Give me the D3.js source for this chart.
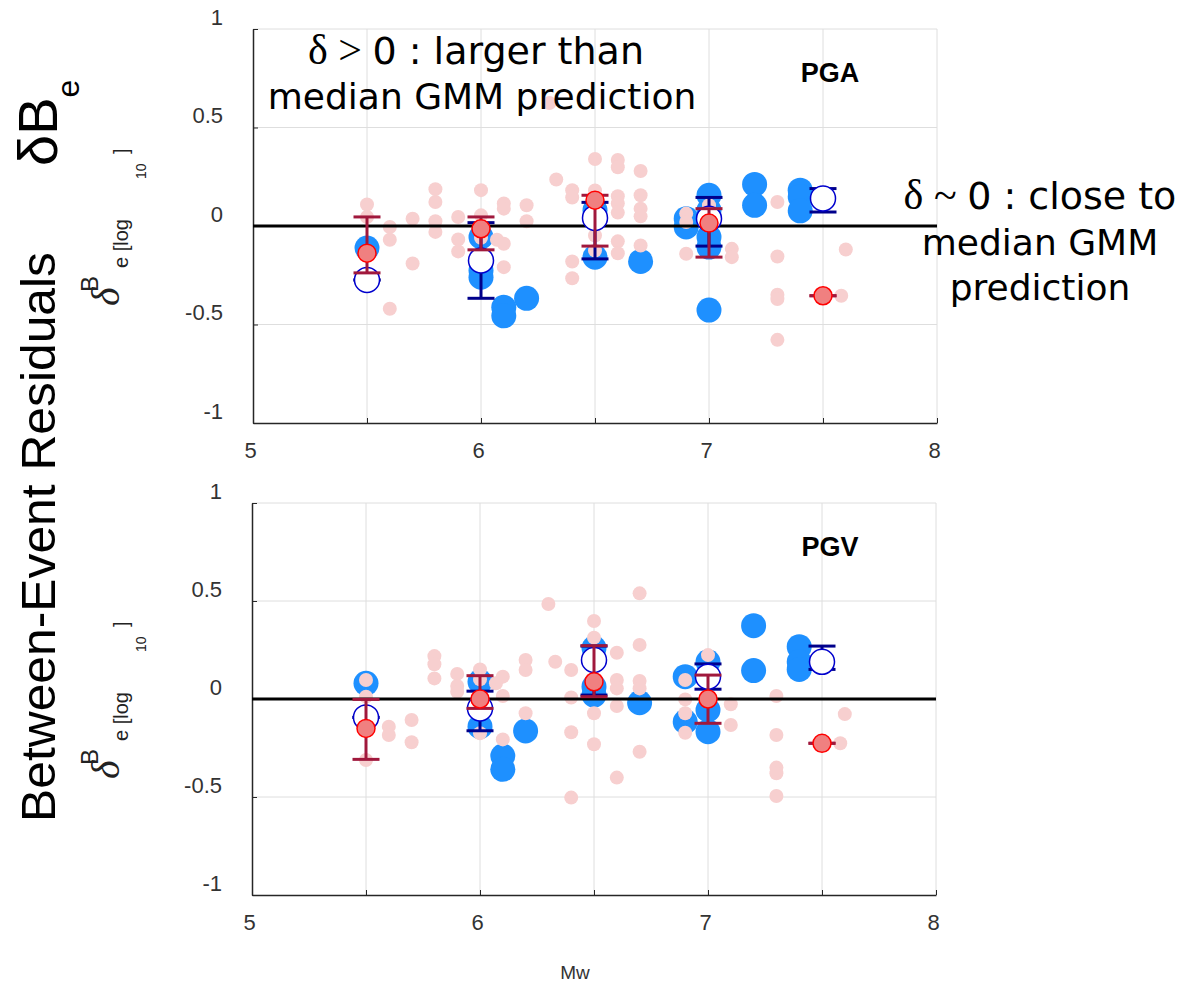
<!DOCTYPE html>
<html>
<head>
<meta charset="utf-8">
<script src="https://cdn.jsdelivr.net/npm/d3@7"></script>
<style>
  body { margin: 0; background: #fff; }
</style>
</head>
<body>
<div id="plot"></div>
<script>
// ---- data: [Mw, residual] ----
const pgaAll = [
  [5.5,0.109],[5.5,0.046],[5.6,-0.005],[5.6,-0.07],[5.6,-0.42],[5.7,0.037],[5.7,-0.19],
  [5.8,0.187],[5.8,0.122],[5.8,0.024],[5.8,-0.03],[5.9,0.046],[5.9,-0.068],[5.9,-0.129],
  [6.0,0.182],[6.0,0.054],[6.0,-0.06],[6.07,-0.07],[6.1,0.114],[6.1,0.088],[6.1,-0.09],[6.1,-0.209],
  [6.2,0.105],[6.2,0.024],[6.3,0.624],[6.33,0.236],[6.4,0.182],[6.4,0.145],[6.4,-0.18],[6.4,-0.265],
  [6.5,0.34],[6.5,0.18],[6.5,-0.048],[6.5,-0.124],[6.6,0.335],[6.6,0.298],[6.6,0.151],[6.6,0.114],
  [6.6,0.068],[6.6,-0.078],[6.6,-0.138],[6.7,0.279],[6.7,0.156],[6.7,0.088],[6.7,0.049],[6.7,-0.099],
  [6.9,0.063],[6.9,0.02],[6.9,-0.141],[7.0,0.105],[7.1,-0.116],[7.1,-0.158],
  [7.3,0.122],[7.3,-0.155],[7.3,-0.349],[7.3,-0.371],[7.3,-0.578],[7.58,-0.354],[7.6,-0.119]
];
const pgaSubset = [
  [5.5,-0.112],[6.0,-0.056],[6.0,-0.226],[6.0,-0.26],[6.1,-0.413],[6.1,-0.456],[6.2,-0.367],
  [6.5,0.08],[6.5,-0.158],[6.7,-0.18],[6.9,0.037],[6.9,-0.005],
  [7.0,0.156],[7.0,0.08],[7.0,-0.056],[7.0,-0.107],[7.0,-0.427],
  [7.2,0.211],[7.2,0.105],[7.4,0.182],[7.4,0.148],[7.4,0.077]
];
const pgvAll = [
  [5.5,0.097],[5.5,0.012],[5.5,-0.311],[5.6,-0.141],[5.6,-0.184],[5.7,-0.107],[5.7,-0.221],
  [5.8,0.219],[5.8,0.177],[5.8,0.105],[5.9,0.128],[5.9,0.066],[5.9,0.037],
  [6.0,0.151],[6.0,0.1],[6.0,-0.175],[6.07,0.08],[6.1,0.114],[6.1,0.015],[6.1,-0.206],
  [6.2,0.199],[6.2,0.148],[6.2,-0.073],[6.3,0.485],[6.33,0.19],
  [6.4,0.148],[6.4,0.008],[6.4,-0.17],[6.4,-0.503],[6.5,0.398],[6.5,0.313],[6.5,-0.073],[6.5,-0.231],
  [6.6,0.236],[6.6,0.097],[6.6,0.054],[6.6,-0.036],[6.6,-0.401],
  [6.7,0.539],[6.7,0.276],[6.7,0.092],[6.7,0.054],[6.7,-0.269],
  [6.9,0.097],[6.9,-0.002],[6.9,-0.073],[6.9,-0.172],[7.0,0.224],[7.1,-0.027],[7.1,-0.133],
  [7.3,0.015],[7.3,-0.184],[7.3,-0.35],[7.3,-0.379],[7.3,-0.495],[7.58,-0.226],[7.6,-0.077]
];
const pgvSubset = [
  [5.5,0.08],[6.0,0.088],[6.0,-0.141],[6.1,-0.291],[6.1,-0.359],[6.2,-0.163],
  [6.5,0.26],[6.5,0.063],[6.5,0.02],[6.7,-0.019],[6.9,0.114],[6.9,-0.116],
  [7.0,0.19],[7.0,-0.056],[7.0,-0.167],[7.2,0.374],[7.2,0.145],[7.4,0.267],[7.4,0.19],[7.4,0.151]
];

// binned summaries
const binMw = [5.5, 6.0, 6.5, 7.0, 7.5];
const pgaSubMid = [-0.274, -0.175, 0.041, 0.037, 0.14];
const pgaSubLo  = [-0.274, -0.367, -0.167, -0.102, 0.071];
const pgaSubHi  = [-0.274, 0.017, 0.12, 0.145, 0.19];
const pgaAllMid = [-0.138, -0.014, 0.131, 0.015, -0.354];
const pgaAllLo  = [-0.238, -0.121, -0.102, -0.158, -0.354];
const pgaAllHi  = [0.046, 0.046, 0.156, 0.088, -0.354];

const pgvSubMid = [-0.094, -0.048, 0.199, 0.114, 0.19];
const pgvSubLo  = [-0.094, -0.162, 0.02, 0.05, 0.151];
const pgvSubHi  = [-0.094, 0.04, 0.27, 0.179, 0.27];
const pgvAllMid = [-0.15, 0.0, 0.088, 0.0, -0.226];
const pgvAllLo  = [-0.308, -0.048, 0.012, -0.124, -0.226];
const pgvAllHi  = [-0.002, 0.119, 0.272, 0.122, -0.226];

const yTicks = [-1, -0.5, 0, 0.5, 1];
const xTicks = [5, 5.5, 6, 6.5, 7, 7.5, 8];

const svg = d3.select("#plot").append("svg")
    .attr("width", 1182)
    .attr("height", 989)
    .style("font-family", "'Liberation Sans', Arial, sans-serif");

svg.append("rect").attr("width", 1182).attr("height", 989).attr("fill", "#fff");

function summary(mids, los, his) {
    return binMw.map((m, i) => ({mw: m, mid: mids[i], lo: los[i], hi: his[i]}));
}

function drawPanel(p) {
    const x = d3.scaleLinear().domain([5, 8]).range([p.left, p.right]);
    const y = d3.scaleLinear().domain([-1, 1]).range([p.bottom, p.top]);
    const g = svg.append("g");

    // grid
    g.selectAll("line.gx").data(xTicks.slice(1)).join("line")
        .attr("x1", d => x(d)).attr("x2", d => x(d))
        .attr("y1", y(-1)).attr("y2", y(1))
        .attr("stroke", "#dedede").attr("stroke-width", 1);
    g.selectAll("line.gy").data(yTicks.slice(1)).join("line")
        .attr("x1", x(5)).attr("x2", x(8))
        .attr("y1", d => y(d)).attr("y2", d => y(d))
        .attr("stroke", "#dedede").attr("stroke-width", 1);

    // axes
    const ax = g.append("g")
        .attr("transform", `translate(0,${p.bottom})`)
        .call(d3.axisBottom(x).tickValues(xTicks).tickSizeInner(-5).tickSizeOuter(0)
            .tickPadding(19).tickFormat(d => Number.isInteger(d) ? d : ""));
    const ay = g.append("g")
        .attr("transform", `translate(${p.left},0)`)
        .call(d3.axisLeft(y).tickValues(yTicks).tickSizeInner(-5).tickSizeOuter(0)
            .tickPadding(30).tickFormat(d => String(d)));
    [ax, ay].forEach(a => {
        a.select(".domain").attr("stroke", "#262626").attr("stroke-width", 1.5);
        a.selectAll(".tick line").attr("stroke", "#262626");
        a.selectAll("text").attr("fill", "#333").style("font-size", "22px")
            .style("font-family", "'Liberation Sans', Arial, sans-serif");
    });
    ax.selectAll("text").attr("dx", -3);
    ay.selectAll("text").attr("dy", -5);

    // individual events
    g.selectAll("circle.sub").data(p.sub).join("circle")
        .attr("cx", d => x(d[0])).attr("cy", d => y(d[1])).attr("r", 12.5)
        .attr("fill", "#1e90ff");
    g.selectAll("circle.all").data(p.all).join("circle")
        .attr("cx", d => x(d[0])).attr("cy", d => y(d[1])).attr("r", 7)
        .attr("fill", "#f7cfcf");

    // zero line
    g.append("line")
        .attr("x1", x(5)).attr("x2", x(8)).attr("y1", y(0)).attr("y2", y(0))
        .attr("stroke", "#000").attr("stroke-width", 3);

    // error bars + bin markers
    function bars(data, color) {
        const e = g.append("g").attr("stroke", color).attr("stroke-width", 3);
        e.selectAll("line.v").data(data).join("line")
            .attr("x1", d => x(d.mw)).attr("x2", d => x(d.mw))
            .attr("y1", d => y(d.lo)).attr("y2", d => y(d.hi));
        e.selectAll("line.lo").data(data).join("line")
            .attr("x1", d => x(d.mw) - 13.5).attr("x2", d => x(d.mw) + 13.5)
            .attr("y1", d => y(d.lo)).attr("y2", d => y(d.lo));
        e.selectAll("line.hi").data(data).join("line")
            .attr("x1", d => x(d.mw) - 13.5).attr("x2", d => x(d.mw) + 13.5)
            .attr("y1", d => y(d.hi)).attr("y2", d => y(d.hi));
    }
    bars(p.subStats, "#00008b");
    g.selectAll("circle.subm").data(p.subStats).join("circle")
        .attr("cx", d => x(d.mw)).attr("cy", d => y(d.mid)).attr("r", 12.5)
        .attr("fill", "#fff").attr("stroke", "#0000cd").attr("stroke-width", 1.5);
    bars(p.allStats, "#a0183c");
    g.selectAll("circle.allm").data(p.allStats).join("circle")
        .attr("cx", d => x(d.mw)).attr("cy", d => y(d.mid)).attr("r", 9)
        .attr("fill", "#f08080").attr("stroke", "#ff0000").attr("stroke-width", 1.5);

    // panel title
    g.append("text").attr("x", 830).attr("y", p.top + 53)
        .attr("text-anchor", "middle").style("font-size", "27px").style("font-weight", "bold")
        .text(p.title);

    // y label delta^B_e[log10]
    const y0 = y(0);
    const rot = (bx, sy, size, txt, extra) => {
        const t = svg.append("text")
            .attr("transform", `translate(${bx},${sy}) rotate(-90)`)
            .style("font-size", size + "px").attr("fill", "#222").text(txt);
        if (extra) extra(t);
    };
    rot(119, y0 + 80, 40, "δ", t => t.style("font-family", "'Liberation Serif', serif").style("font-style", "italic"));
    rot(98, y0 + 66, 24, "B");
    rot(128, y0 + 42, 20, "e [log");
    rot(146, y0 - 47, 14, "10");
    rot(128, y0 - 72, 20, "]");
}

drawPanel({
    left: 253, right: 937, top: 29, bottom: 423, title: "PGA",
    all: pgaAll, sub: pgaSubset,
    subStats: summary(pgaSubMid, pgaSubLo, pgaSubHi),
    allStats: summary(pgaAllMid, pgaAllLo, pgaAllHi)
});
drawPanel({
    left: 252, right: 936, top: 503, bottom: 895, title: "PGV",
    all: pgvAll, sub: pgvSubset,
    subStats: summary(pgvSubMid, pgvSubLo, pgvSubHi),
    allStats: summary(pgvAllMid, pgvAllLo, pgvAllHi)
});

// x label
svg.append("text").attr("x", 575).attr("y", 979).attr("text-anchor", "middle")
    .style("font-size", "19px").attr("fill", "#333").text("Mw");

// main y label
svg.append("text")
    .attr("transform", "translate(55,822) rotate(-90)")
    .attr("textLength", 570).attr("lengthAdjust", "spacingAndGlyphs")
    .style("font-size", "48px").text("Between-Event Residuals");
const big = svg.append("text")
    .attr("transform", "translate(57,166) rotate(-90)")
    .style("font-size", "56px");
big.append("tspan").text("δB");
big.append("tspan").attr("dy", 22).style("font-size", "32px").text("e");

// annotations
const ann = "'DejaVu Sans', Verdana, sans-serif";
const serif = "'Liberation Serif', 'Times New Roman', serif";
const a1 = svg.append("text").attr("x", 476).attr("y", 64).attr("text-anchor", "middle")
    .style("font-size", "38px").style("font-family", ann);
a1.append("tspan").style("font-family", serif).style("font-size", "42px").text("δ > ");
a1.append("tspan").text("0 : larger than");
svg.append("text").attr("x", 482).attr("y", 109).attr("text-anchor", "middle")
    .style("font-size", "36px").style("font-family", ann).text("median GMM prediction");

const a2 = svg.append("text").attr("x", 1040).attr("y", 209).attr("text-anchor", "middle")
    .style("font-size", "38px").style("font-family", ann);
a2.append("tspan").style("font-family", serif).style("font-size", "42px").text("δ ~ ");
a2.append("tspan").text("0 : close to");
svg.append("text").attr("x", 1040).attr("y", 255).attr("text-anchor", "middle")
    .style("font-size", "36px").style("font-family", ann).text("median GMM");
svg.append("text").attr("x", 1040).attr("y", 300).attr("text-anchor", "middle")
    .style("font-size", "36px").style("font-family", ann).text("prediction");
</script>
</body>
</html>
